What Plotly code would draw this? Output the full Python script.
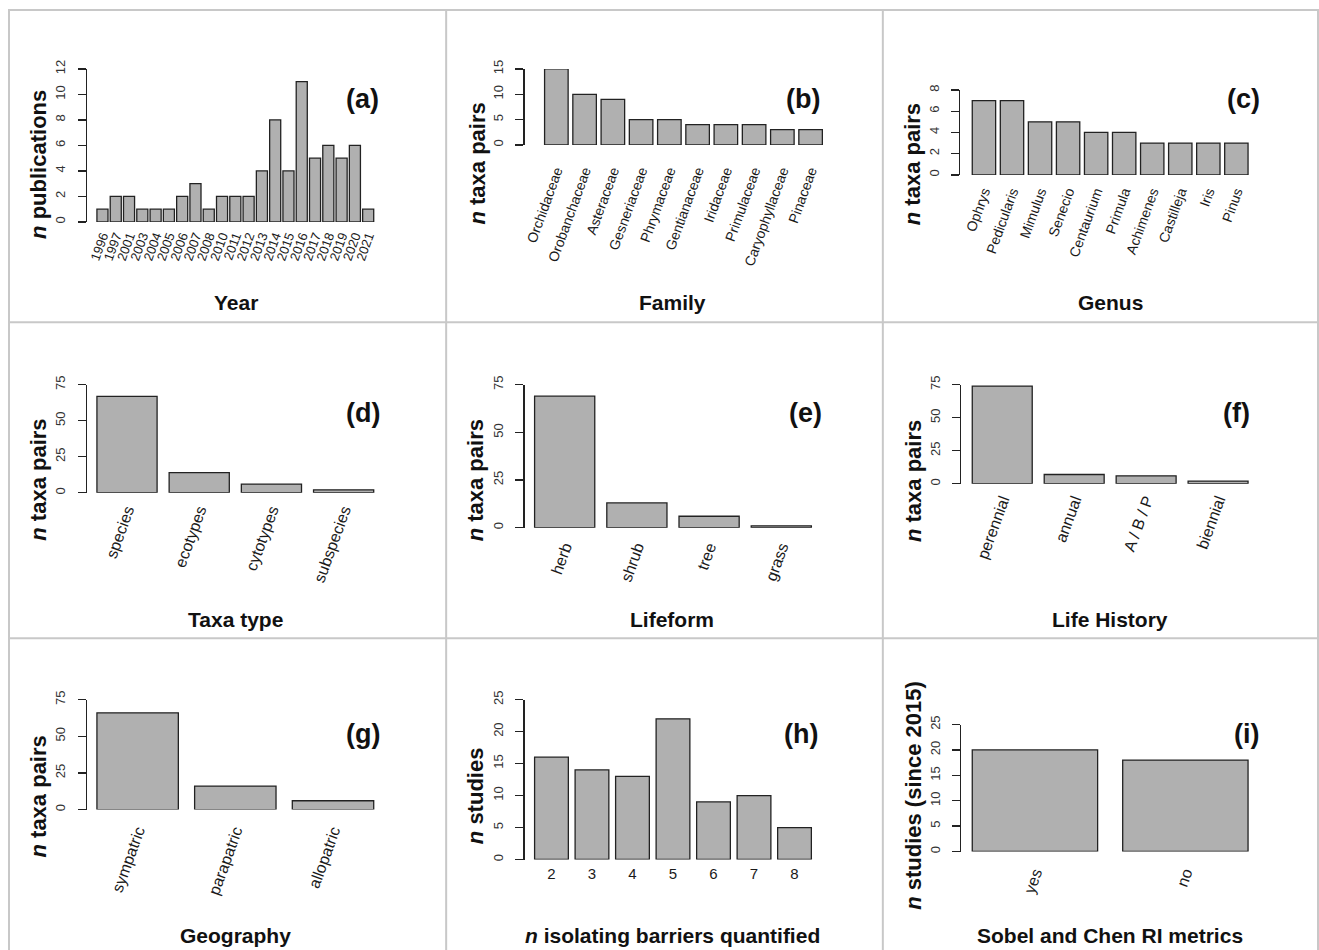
import plotly.graph_objects as go

W, H = 1319, 950

# ---------------- data ----------------
year_labels = ["1996", "1997", "2001", "2003", "2004", "2005", "2006", "2007", "2008", "2010",
               "2011", "2012", "2013", "2014", "2015", "2016", "2017", "2018", "2019", "2020", "2021"]
year_counts = [1, 2, 2, 1, 1, 1, 2, 3, 1, 2, 2, 2, 4, 8, 4, 11, 5, 6, 5, 6, 1]

family_labels = ["Orchidaceae", "Orobanchaceae", "Asteraceae", "Gesneriaceae", "Phrymaceae",
                 "Gentianaceae", "Iridaceae", "Primulaceae", "Caryophyllaceae", "Pinaceae"]
family_counts = [15, 10, 9, 5, 5, 4, 4, 4, 3, 3]

genus_labels = ["Ophrys", "Pedicularis", "Mimulus", "Senecio", "Centaurium", "Primula",
                "Achimenes", "Castilleja", "Iris", "Pinus"]
genus_counts = [7, 7, 5, 5, 4, 4, 3, 3, 3, 3]

taxa_labels = ["species", "ecotypes", "cytotypes", "subspecies"]
taxa_counts = [67, 14, 6, 2]

lifeform_labels = ["herb", "shrub", "tree", "grass"]
lifeform_counts = [69, 13, 6, 1]

history_labels = ["perennial", "annual", "A / B / P", "biennial"]
history_counts = [74, 7, 6, 2]

geo_labels = ["sympatric", "parapatric", "allopatric"]
geo_counts = [66, 16, 6]

barrier_labels = ["2", "3", "4", "5", "6", "7", "8"]
barrier_counts = [16, 14, 13, 22, 9, 10, 5]

metric_labels = ["yes", "no"]
metric_counts = [20, 18]

# ---------------- layout spec (pixel geometry) ----------------
panels = [
    dict(cats=year_labels, vals=year_counts, L=86, b0=96, b1=373, y0=222, yt=69, ymax=12, dtick=2,
         ang=-70, xfs=13, so=3, ytitle="publications", ypos=(38, 164), lab="(a)", lpos=(362, 99),
         xtitle="<b>Year</b>", xpos=(235, 303)),
    dict(cats=family_labels, vals=family_counts, L=524, b0=544, b1=822, y0=145, yt=69, ymax=15, dtick=5,
         ang=-70, xfs=14, so=14, ytitle="taxa pairs", ypos=(477, 164), lab="(b)", lpos=(803, 99),
         xtitle="<b>Family</b>", xpos=(672, 303)),
    dict(cats=genus_labels, vals=genus_counts, L=960, b0=972, b1=1248, y0=175, yt=90, ymax=8, dtick=2,
         ang=-70, xfs=14, so=5, ytitle="taxa pairs", ypos=(913, 164), lab="(c)", lpos=(1243, 99),
         xtitle="<b>Genus</b>", xpos=(1110, 303)),
    dict(cats=taxa_labels, vals=taxa_counts, L=86, b0=96, b1=373, y0=493, yt=385, ymax=75, dtick=25,
         ang=-70, xfs=16, so=4, ytitle="taxa pairs", ypos=(38, 480), lab="(d)", lpos=(362, 413),
         xtitle="<b>Taxa type</b>", xpos=(235, 620)),
    dict(cats=lifeform_labels, vals=lifeform_counts, L=524, b0=534, b1=811, y0=528, yt=385, ymax=75, dtick=25,
         ang=-70, xfs=16, so=6, ytitle="taxa pairs", ypos=(475, 481), lab="(e)", lpos=(805, 413),
         xtitle="<b>Lifeform</b>", xpos=(672, 620)),
    dict(cats=history_labels, vals=history_counts, L=961, b0=972, b1=1248, y0=484, yt=385, ymax=75, dtick=25,
         ang=-70, xfs=16, so=3, ytitle="taxa pairs", ypos=(913, 481), lab="(f)", lpos=(1236, 413),
         xtitle="<b>Life History</b>", xpos=(1110, 620)),
    dict(cats=geo_labels, vals=geo_counts, L=86, b0=96, b1=373, y0=810, yt=700, ymax=75, dtick=25,
         ang=-70, xfs=16, so=8, ytitle="taxa pairs", ypos=(38, 797), lab="(g)", lpos=(362, 734),
         xtitle="<b>Geography</b>", xpos=(235, 936)),
    dict(cats=barrier_labels, vals=barrier_counts, L=524, b0=534, b1=811, y0=860, yt=700, ymax=25, dtick=5,
         ang=0, xfs=15, so=3, ytitle="studies", ypos=(475, 796), lab="(h)", lpos=(801, 734),
         xtitle="<b><i>n</i> isolating barriers quantified</b>", xpos=(672, 936)),
    dict(cats=metric_labels, vals=metric_counts, L=961, b0=972, b1=1248, y0=852, yt=725, ymax=25, dtick=5,
         ang=-70, xfs=16, so=8, ytitle="studies (since 2015)", ypos=(913, 796), lab="(i)", lpos=(1246, 734),
         xtitle="<b>Sobel and Chen RI metrics</b>", xpos=(1110, 936)),
]

FONT = "Liberation Sans, Arial, Helvetica, sans-serif"
BAR_W = 1.0 / 1.2  # R barplot width 1, space 0.2

# vertical calibration of the rendered picture (observed offset / squeeze)
Y_OFF, Y_SCALE = 9.0, 0.989

fig = go.Figure()
layout = dict(width=W, height=H, margin=dict(l=0, r=0, t=0, b=0),
              paper_bgcolor="white", plot_bgcolor="rgba(0,0,0,0)",
              showlegend=False, bargap=1 - BAR_W, font=dict(family=FONT, color="#1a1a1a"))
annotations = []
shapes = []

def px(x):
    return x / W

def py(y):
    yc = (y - Y_OFF) / Y_SCALE
    return min(1.0, 1 - yc / H)

for i, p in enumerate(panels):
    k = "" if i == 0 else str(i + 1)
    n = len(p["cats"])
    u = (p["b1"] - p["b0"]) / (n - 1 + BAR_W)
    pad = (p["b0"] - p["L"]) / u
    R = p["b1"] + (p["b0"] - p["L"])
    fig.add_trace(go.Bar(x=p["cats"], y=p["vals"], xaxis="x" + k, yaxis="y" + k,
                         marker=dict(color="#b0b0b0", line=dict(color="#222222", width=1.3)),
                         hoverinfo="x+y"))
    layout["xaxis" + k] = dict(domain=[px(p["L"]), px(R)], anchor="y" + k,
                               type="category", range=[-BAR_W / 2 - pad, n - 1 + BAR_W / 2 + pad],
                               tickmode="array", tickvals=p["cats"], ticktext=p["cats"],
                               showline=False, showgrid=False, zeroline=False, ticks="",
                               tickangle=p["ang"], tickfont=dict(size=p["xfs"], color="#1a1a1a"),
                               ticklabelstandoff=p["so"], fixedrange=True)
    layout["yaxis" + k] = dict(domain=[py(p["y0"]), py(p["yt"])], anchor="x" + k,
                               range=[0, p["ymax"]], dtick=p["dtick"], tick0=0,
                               showline=True, linecolor="#222222", linewidth=1.3,
                               ticks="outside", ticklen=8, tickwidth=1.3, tickcolor="#222222",
                               tickangle=-90, tickfont=dict(size=13, color="#333333"),
                               ticklabelstandoff=7,
                               showgrid=False, zeroline=False, fixedrange=True)
    annotations.append(dict(text="<b><i>n</i> " + p["ytitle"] + "</b>", xref="paper", yref="paper",
                            x=px(p["ypos"][0]), y=py(p["ypos"][1]), textangle=-90,
                            xanchor="center", yanchor="middle", showarrow=False,
                            font=dict(size=22, color="#111111")))
    annotations.append(dict(text="<b>" + p["lab"] + "</b>", xref="paper", yref="paper",
                            x=px(p["lpos"][0]), y=py(p["lpos"][1]),
                            xanchor="center", yanchor="middle", showarrow=False,
                            font=dict(size=27, color="#111111")))
    annotations.append(dict(text=p["xtitle"], xref="paper", yref="paper",
                            x=px(p["xpos"][0]), y=py(p["xpos"][1]),
                            xanchor="center", yanchor="middle", showarrow=False,
                            font=dict(size=21, color="#111111")))

GRID = dict(color="#c8c8c8", width=2)
for x in (445.5, 882.5):
    shapes.append(dict(type="line", xref="paper", yref="paper", x0=px(x), x1=px(x),
                       y0=py(7), y1=py(960), line=GRID))
for y in (322.5, 638.5):
    shapes.append(dict(type="line", xref="paper", yref="paper", x0=px(8), x1=px(1318),
                       y0=py(y), y1=py(y), line=GRID))
shapes.append(dict(type="rect", xref="paper", yref="paper", x0=px(8), x1=px(1318),
                   y0=py(965), y1=py(10), line=GRID))

layout["annotations"] = annotations
layout["shapes"] = shapes
fig.update_layout(**layout)

POST = ("document.documentElement.style.margin='0';document.body.style.margin='0';"
        "document.body.style.padding='0';document.body.style.overflow='hidden';"
        "var d=document.getElementById('{plot_id}');d.style.position='fixed';"
        "d.style.top='0px';d.style.left='0px';")
fig.write_html("out.html", post_script=POST, config={"displayModeBar": False, "staticPlot": True})
